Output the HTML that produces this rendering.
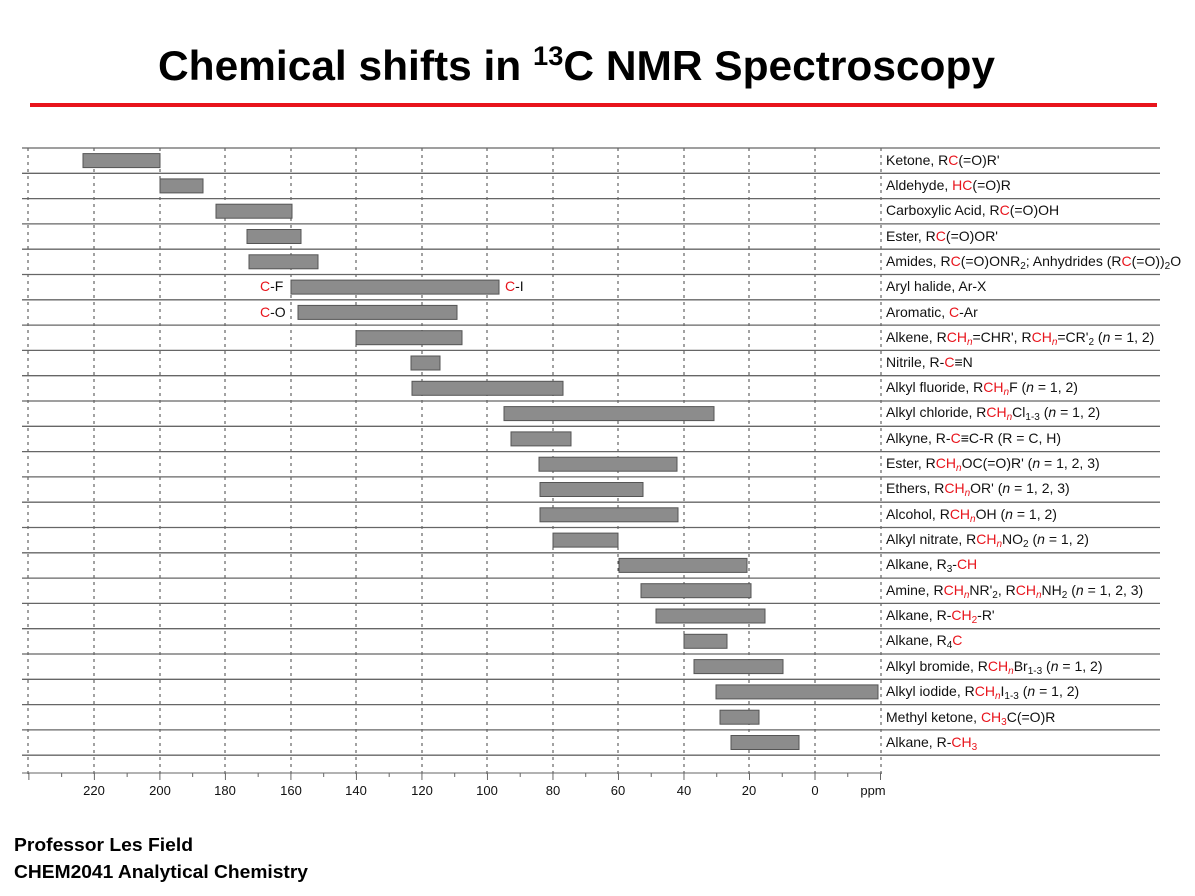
<!DOCTYPE html>
<html><head><meta charset="utf-8"><style>
body{margin:0;background:#fff;width:1195px;height:896px;overflow:hidden}
svg{display:block}
.l{font-family:"Liberation Sans",sans-serif;font-size:14px;fill:#111}
.r{fill:#e8141c}
</style></head><body>
<svg width="1195" height="896" xmlns="http://www.w3.org/2000/svg">
<text x="158" y="80" textLength="837" lengthAdjust="spacingAndGlyphs" font-family="Liberation Sans,sans-serif" font-weight="bold" font-size="42" fill="#000">Chemical shifts in <tspan font-size="27" dy="-15">13</tspan><tspan dy="15">C NMR Spectroscopy</tspan></text>
<rect x="30" y="103" width="1127" height="4" fill="#e8141c"/>
<g stroke="#444" stroke-width="1" stroke-dasharray="3,4">
<line x1="28" y1="148" x2="28" y2="775"/><line x1="94" y1="148" x2="94" y2="775"/><line x1="160" y1="148" x2="160" y2="775"/><line x1="225" y1="148" x2="225" y2="775"/><line x1="291" y1="148" x2="291" y2="775"/><line x1="356" y1="148" x2="356" y2="775"/><line x1="422" y1="148" x2="422" y2="775"/><line x1="487" y1="148" x2="487" y2="775"/><line x1="553" y1="148" x2="553" y2="775"/><line x1="618" y1="148" x2="618" y2="775"/><line x1="684" y1="148" x2="684" y2="775"/><line x1="749" y1="148" x2="749" y2="775"/><line x1="815" y1="148" x2="815" y2="775"/><line x1="881" y1="148" x2="881" y2="775"/>
</g>
<g stroke="#666" stroke-width="1.3" id="rows"></g>
<g fill="#8c8c8c" stroke="#555" stroke-width="1" id="bars"></g>
<line x1="22" y1="773" x2="882" y2="773" stroke="#666"/>
<g id="ticks" stroke="#666"></g>
<g font-family="Liberation Sans,sans-serif" font-size="13" fill="#111" text-anchor="middle">
<text x="94" y="795">220</text><text x="160" y="795">200</text><text x="225" y="795">180</text><text x="291" y="795">160</text><text x="356" y="795">140</text><text x="422" y="795">120</text><text x="487" y="795">100</text><text x="553" y="795">80</text><text x="618" y="795">60</text><text x="684" y="795">40</text><text x="749" y="795">20</text><text x="815" y="795">0</text><text x="873" y="795">ppm</text>
</g>
<g class="l">
<text x="260" y="291"><tspan class="r">C</tspan>-F</text>
<text x="505" y="291"><tspan class="r">C</tspan>-I</text>
<text x="260" y="317"><tspan class="r">C</tspan>-O</text>
<text x="886" y="165">Ketone, R<tspan class="r">C</tspan>(=O)R'</text>
<text x="886" y="190">Aldehyde, <tspan class="r">HC</tspan>(=O)R</text>
<text x="886" y="215">Carboxylic Acid, R<tspan class="r">C</tspan>(=O)OH</text>
<text x="886" y="241">Ester, R<tspan class="r">C</tspan>(=O)OR'</text>
<text x="886" y="266">Amides, R<tspan class="r">C</tspan>(=O)ONR<tspan font-size="10" dy="3">2</tspan><tspan dy="-3">; Anhydrides (R</tspan><tspan class="r">C</tspan>(=O))<tspan font-size="10" dy="3">2</tspan><tspan dy="-3">O</tspan></text>
<text x="886" y="291">Aryl halide, Ar-X</text>
<text x="886" y="317">Aromatic, <tspan class="r">C</tspan>-Ar</text>
<text x="886" y="342">Alkene, R<tspan class="r">CH<tspan font-size="10" dy="3" font-style="italic">n</tspan></tspan><tspan dy="-3">=CHR', R</tspan><tspan class="r">CH<tspan font-size="10" dy="3" font-style="italic">n</tspan></tspan><tspan dy="-3">=CR'</tspan><tspan font-size="10" dy="3">2</tspan><tspan dy="-3"> (</tspan><tspan font-style="italic">n</tspan> = 1, 2)</text>
<text x="886" y="367">Nitrile, R-<tspan class="r">C</tspan>≡N</text>
<text x="886" y="392">Alkyl fluoride, R<tspan class="r">CH<tspan font-size="10" dy="3" font-style="italic">n</tspan></tspan><tspan dy="-3">F (</tspan><tspan font-style="italic">n</tspan> = 1, 2)</text>
<text x="886" y="417">Alkyl chloride, R<tspan class="r">CH<tspan font-size="10" dy="3" font-style="italic">n</tspan></tspan><tspan dy="-3">Cl</tspan><tspan font-size="10" dy="3">1-3</tspan><tspan dy="-3"> (</tspan><tspan font-style="italic">n</tspan> = 1, 2)</text>
<text x="886" y="443">Alkyne, R-<tspan class="r">C</tspan>≡C-R (R = C, H)</text>
<text x="886" y="468">Ester, R<tspan class="r">CH<tspan font-size="10" dy="3" font-style="italic">n</tspan></tspan><tspan dy="-3">OC(=O)R' (</tspan><tspan font-style="italic">n</tspan> = 1, 2, 3)</text>
<text x="886" y="493">Ethers, R<tspan class="r">CH<tspan font-size="10" dy="3" font-style="italic">n</tspan></tspan><tspan dy="-3">OR' (</tspan><tspan font-style="italic">n</tspan> = 1, 2, 3)</text>
<text x="886" y="519">Alcohol, R<tspan class="r">CH<tspan font-size="10" dy="3" font-style="italic">n</tspan></tspan><tspan dy="-3">OH (</tspan><tspan font-style="italic">n</tspan> = 1, 2)</text>
<text x="886" y="544">Alkyl nitrate, R<tspan class="r">CH<tspan font-size="10" dy="3" font-style="italic">n</tspan></tspan><tspan dy="-3">NO</tspan><tspan font-size="10" dy="3">2</tspan><tspan dy="-3"> (</tspan><tspan font-style="italic">n</tspan> = 1, 2)</text>
<text x="886" y="569">Alkane, R<tspan font-size="10" dy="3">3</tspan><tspan dy="-3">-</tspan><tspan class="r">CH</tspan></text>
<text x="886" y="595">Amine, R<tspan class="r">CH<tspan font-size="10" dy="3" font-style="italic">n</tspan></tspan><tspan dy="-3">NR'</tspan><tspan font-size="10" dy="3">2</tspan><tspan dy="-3">, R</tspan><tspan class="r">CH<tspan font-size="10" dy="3" font-style="italic">n</tspan></tspan><tspan dy="-3">NH</tspan><tspan font-size="10" dy="3">2</tspan><tspan dy="-3"> (</tspan><tspan font-style="italic">n</tspan> = 1, 2, 3)</text>
<text x="886" y="620">Alkane, R-<tspan class="r">CH<tspan font-size="10" dy="3">2</tspan></tspan><tspan dy="-3">-R'</tspan></text>
<text x="886" y="645">Alkane, R<tspan font-size="10" dy="3">4</tspan><tspan dy="-3" class="r">C</tspan></text>
<text x="886" y="671">Alkyl bromide, R<tspan class="r">CH<tspan font-size="10" dy="3" font-style="italic">n</tspan></tspan><tspan dy="-3">Br</tspan><tspan font-size="10" dy="3">1-3</tspan><tspan dy="-3"> (</tspan><tspan font-style="italic">n</tspan> = 1, 2)</text>
<text x="886" y="696">Alkyl iodide, R<tspan class="r">CH<tspan font-size="10" dy="3" font-style="italic">n</tspan></tspan><tspan dy="-3">I</tspan><tspan font-size="10" dy="3">1-3</tspan><tspan dy="-3"> (</tspan><tspan font-style="italic">n</tspan> = 1, 2)</text>
<text x="886" y="722">Methyl ketone, <tspan class="r">CH<tspan font-size="10" dy="3">3</tspan></tspan><tspan dy="-3">C(=O)R</tspan></text>
<text x="886" y="747">Alkane, R-<tspan class="r">CH<tspan font-size="10" dy="3">3</tspan></tspan></text>
</g>
<g font-family="Liberation Sans,sans-serif" font-weight="bold" font-size="18" fill="#000">
<text x="14" y="851" textLength="179" lengthAdjust="spacingAndGlyphs">Professor Les Field</text>
<text x="14" y="878" textLength="294" lengthAdjust="spacingAndGlyphs">CHEM2041 Analytical Chemistry</text>
</g>
</svg>
<script>
var ns="http://www.w3.org/2000/svg";
var rows=document.getElementById("rows");
for(var i=0;i<=24;i++){var y=148+25.3*i;var l=document.createElementNS(ns,"line");l.setAttribute("x1",22);l.setAttribute("x2",1160);l.setAttribute("y1",y);l.setAttribute("y2",y);rows.appendChild(l);}
var b=[[83,160],[160,203],[216,292],[247,301],[249,318],[291,499],[298,457],[356,462],[411,440],[412,563],[504,714],[511,571],[539,677],[540,643],[540,678],[553,618],[619,747],[641,751],[656,765],[684,727],[694,783],[716,878],[720,759],[731,799]];
var g=document.getElementById("bars");
b.forEach(function(p,i){var c=160.6+25.3*i;var r=document.createElementNS(ns,"rect");r.setAttribute("x",p[0]);r.setAttribute("y",c-7);r.setAttribute("width",p[1]-p[0]);r.setAttribute("height",14);g.appendChild(r);});
var t=document.getElementById("ticks");
for(var v=240;v>=-20;v-=10){var x=815-3.2755*v;var l=document.createElementNS(ns,"line");l.setAttribute("x1",x);l.setAttribute("x2",x);l.setAttribute("y1",773);l.setAttribute("y2",v%20==0?780:777);t.appendChild(l);}
</script>
</body></html>
